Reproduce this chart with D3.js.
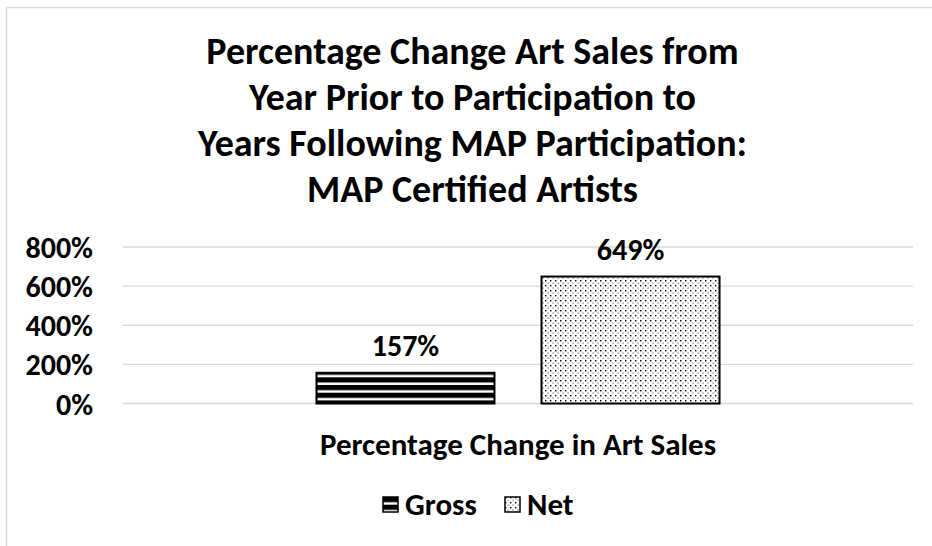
<!DOCTYPE html>
<html>
<head>
<meta charset="utf-8">
<script src="https://cdn.jsdelivr.net/npm/d3@7"></script>
<style>
  body { margin: 0; background: #fff; }
  text { font-family: Calibri, Carlito, "Open Sans", sans-serif; font-weight: bold; fill: #000; }
</style>
</head>
<body>
<div id="holder"></div>
<script>
// data
var categories = ["Percentage Change in Art Sales"];
var seriesNames = ["Gross", "Net"];
var grossValues = [157];
var netValues = [649];
var yTicks = [0, 200, 400, 600, 800];
var titleLines = [
  "Percentage Change Art Sales from",
  "Year Prior to Participation to",
  "Years Following MAP Participation:",
  "MAP Certified Artists"
];

var fullWidth = 932, fullHeight = 546;
var plot = {left: 123, right: 913, top: 247, bottom: 403.5};

var svg = d3.select('#holder').append('svg')
  .attr('width', fullWidth)
  .attr('height', fullHeight);

// patterns
var defs = svg.append('defs');
var stripes = defs.append('pattern')
  .attr('id', 'pat-gross')
  .attr('patternUnits', 'userSpaceOnUse')
  .attr('width', 8).attr('height', 7.7);
stripes.append('rect').attr('width', 8).attr('height', 7.7).attr('fill', '#fff');
stripes.append('rect').attr('y', 0).attr('width', 8).attr('height', 5.2).attr('fill', '#000');

var dots = defs.append('pattern')
  .attr('id', 'pat-net')
  .attr('patternUnits', 'userSpaceOnUse')
  .attr('width', 5).attr('height', 5);
dots.append('rect').attr('width', 5).attr('height', 5).attr('fill', '#fff');
dots.append('rect').attr('x', 0).attr('y', 0).attr('width', 1.4).attr('height', 1.4).attr('fill', '#000');
dots.append('rect').attr('x', 2.5).attr('y', 2.5).attr('width', 1.1).attr('height', 1.1).attr('fill', '#555');

var fills = {Gross: 'url(#pat-gross)', Net: 'url(#pat-net)'};

// chart border (goes off the page right and bottom)
svg.append('rect')
  .attr('x', 6.5).attr('y', 7.5)
  .attr('width', 1000).attr('height', 1000)
  .attr('fill', 'none')
  .attr('stroke', '#d9d9d9')
  .attr('stroke-width', 1.5);

// title
svg.append('text')
  .attr('text-anchor', 'middle')
  .style('font-size', '38px')
  .selectAll('tspan')
  .data(titleLines)
  .enter().append('tspan')
    .attr('x', 472.5)
    .attr('y', function(d, i) { return 64 + i * 46; })
    .text(function(d) { return d; });

var x0 = d3.scaleBand()
  .domain(categories)
  .range([plot.left, plot.right])
  .paddingInner(0)
  .paddingOuter(0.48);

var x1 = d3.scaleBand()
  .domain(seriesNames)
  .range([0, x0.bandwidth()])
  .paddingInner(0.209);

var yScale = d3.scaleLinear()
  .domain([0, 800])
  .range([plot.bottom, plot.top]);

// gridlines
svg.append('g')
  .selectAll('line')
  .data(yTicks)
  .enter().append('line')
    .attr('x1', plot.left).attr('x2', plot.right)
    .attr('y1', function(d) { return yScale(d); })
    .attr('y2', function(d) { return yScale(d); })
    .attr('stroke', '#d9d9d9')
    .attr('stroke-width', 1.3);

// y axis labels
var y_axis = d3.axisLeft(yScale)
  .tickValues(yTicks)
  .tickFormat(function(d) { return d + '%'; })
  .tickSize(0)
  .tickPadding(0);
var yG = svg.append('g')
  .attr('transform', 'translate(93,0)')
  .call(y_axis);
yG.select('.domain').remove();
yG.selectAll('text')
  .style('font-size', '30px')
  .attr('dy', '0.35em');

// bars
var rows = seriesNames.map(function(s) {
  return {series: s, cat: categories[0], value: s === 'Gross' ? grossValues[0] : netValues[0]};
});

var barHolder = svg.append('g');
barHolder.selectAll('.bar')
  .data(rows)
  .enter().append('rect')
    .attr('class', 'bar')
    .attr('x', function(d) { return x0(d.cat) + x1(d.series); })
    .attr('y', function(d) { return yScale(d.value); })
    .attr('width', x1.bandwidth())
    .attr('height', function(d) { return yScale(0) - yScale(d.value); })
    .attr('fill', function(d) { return fills[d.series]; })
    .attr('stroke', '#000')
    .attr('stroke-width', 2);

// data labels
barHolder.selectAll('.lbl')
  .data(rows)
  .enter().append('text')
    .attr('class', 'lbl')
    .attr('text-anchor', 'middle')
    .attr('x', function(d) { return x0(d.cat) + x1(d.series) + x1.bandwidth() / 2; })
    .attr('y', function(d) { return yScale(d.value) - 17; })
    .style('font-size', '30px')
    .text(function(d) { return d.value + '%'; });

// category axis label
svg.append('g')
  .selectAll('text')
  .data(categories)
  .enter().append('text')
    .attr('text-anchor', 'middle')
    .attr('x', function(d) { return x0(d) + x0.bandwidth() / 2; })
    .attr('y', 455)
    .style('font-size', '31px')
    .text(function(d) { return d; });

// legend
var legendX = {Gross: 383, Net: 505};
var leg = svg.append('g').selectAll('g')
  .data(seriesNames)
  .enter().append('g')
    .attr('transform', function(d) { return 'translate(' + legendX[d] + ',497)'; });
leg.append('rect')
  .attr('width', 15).attr('height', 15)
  .attr('fill', function(d) { return fills[d]; })
  .attr('stroke', '#000')
  .attr('stroke-width', 1.5);
leg.append('text')
  .attr('x', 22).attr('y', 18)
  .style('font-size', '31px')
  .text(function(d) { return d; });
</script>
</body>
</html>
